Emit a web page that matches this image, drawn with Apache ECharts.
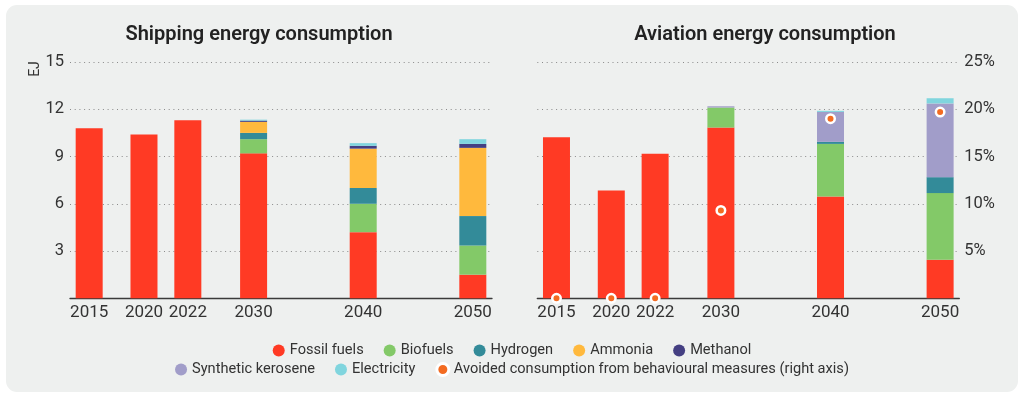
<!DOCTYPE html>
<html>
<head>
<meta charset="utf-8">
<script src="https://cdn.jsdelivr.net/npm/echarts@6/dist/echarts.min.js"></script>
<style>
  html, body { margin: 0; padding: 0; background: #ffffff; }
  #chart { width: 1024px; height: 396px; }
</style>
</head>
<body>
<div id="chart"></div>
<script>
// ---------------- DATA ----------------
const years = ['2015', '2020', '2022', '2030', '2040', '2050'];

const shipFossil      = [10.8, 10.4, 11.3, 9.2, 4.2, 1.5];
const shipBiofuels    = [0, 0, 0, 0.9, 1.8, 1.85];
const shipHydrogen    = [0, 0, 0, 0.4, 1.0, 1.87];
const shipAmmonia     = [0, 0, 0, 0.7, 2.5, 4.33];
const shipMethanol    = [0, 0, 0, 0.08, 0.18, 0.25];
const shipElectricity = [0, 0, 0, 0.06, 0.17, 0.3];

const aviFossil      = [10.23, 6.85, 9.17, 10.84, 6.47, 2.45];
const aviBiofuels    = [0, 0, 0, 1.27, 3.33, 4.23];
const aviHydrogen    = [0, 0, 0, 0, 0.13, 1.01];
const aviSynthetic   = [0, 0, 0, 0.08, 1.9, 4.68];
const aviElectricity = [0, 0, 0, 0, 0.07, 0.33];
const aviAvoidedPct  = [0, 0, 0, 9.3, 19.0, 19.7];

const ejTicks  = ['3', '6', '9', '12', '15'];
const pctTicks = ['5%', '10%', '15%', '20%', '25%'];

// ---------------- LAYOUT (not data) ----------------
// years are placed on a grid of 1/8-unit slots, as in the original figure
const slotOfYear = { '2015': 0, '2020': 10, '2022': 18, '2030': 30, '2040': 50, '2050': 70 };
const PAD = 3;
const N_SLOTS = PAD * 2 + 71;
const FONT = 'Roboto, "Noto Sans", sans-serif';
const TXT = '#333333';

const C = {
  fossil: '#ff3a24', bio: '#83c968', hyd: '#338b99', amm: '#ffb93d',
  meth: '#443f82', syn: '#a19dc9', ele: '#80d5de', dot: '#f36b21'
};

const slotNames = [];
for (let i = 0; i < N_SLOTS; i++) slotNames.push('gap' + i);
years.forEach(y => { slotNames[PAD + slotOfYear[y]] = y; });

function spread(arr) {
  const out = new Array(N_SLOTS).fill('-');
  years.forEach((y, i) => { out[PAD + slotOfYear[y]] = arr[i] === 0 ? '-' : arr[i]; });
  return out;
}
function spreadKeep(arr) {
  const out = new Array(N_SLOTS).fill('-');
  years.forEach((y, i) => { out[PAD + slotOfYear[y]] = arr[i]; });
  return out;
}

function xAxisDef(gridIndex) {
  return {
    type: 'category', gridIndex, data: slotNames, boundaryGap: true,
    axisLine: { lineStyle: { color: '#3a3a3a', width: 1.3 } },
    axisTick: { show: false },
    axisLabel: {
      interval: 0, margin: 6, fontFamily: FONT, fontSize: 17, color: TXT,
      formatter: v => (v.indexOf('gap') === 0 ? '' : v)
    }
  };
}
const splitDotted = { show: true, lineStyle: { color: '#8a8a8a', width: 1, type: [1, 3.7] } };

function bar(name, gridIdx, stack, color, arr) {
  return {
    name, type: 'bar', xAxisIndex: gridIdx, yAxisIndex: gridIdx === 0 ? 0 : 1,
    stack, barWidth: 27, data: spread(arr), itemStyle: { color }, emphasis: { disabled: true }
  };
}

const legendText = { fontFamily: FONT, fontSize: 14.6, color: TXT };

const option = {
  animation: false,
  backgroundColor: 'transparent',
  graphic: [
    { type: 'rect', z: -10, silent: true, shape: { x: 6, y: 5, width: 1012, height: 387, r: 11 },
      style: { fill: '#eef0ef' } },
    { type: 'text', x: 259, y: 35, style: { text: 'Shipping energy consumption', fontFamily: FONT,
      fontSize: 20, fontWeight: 600, fill: '#222222', align: 'center', verticalAlign: 'middle' } },
    { type: 'text', x: 765, y: 35, style: { text: 'Aviation energy consumption', fontFamily: FONT,
      fontSize: 20, fontWeight: 600, fill: '#222222', align: 'center', verticalAlign: 'middle' } },
    { type: 'text', x: 35, y: 69, rotation: Math.PI / 2, style: { text: 'EJ', fontFamily: FONT,
      fontSize: 14, fill: TXT, align: 'center', verticalAlign: 'middle' } }
  ],
  grid: [
    { left: 70, width: 422, top: 62, bottom: 97.7 },
    { left: 537.3, width: 422, top: 62, bottom: 97.7 }
  ],
  xAxis: [xAxisDef(0), xAxisDef(1)],
  yAxis: [
    { type: 'value', gridIndex: 0, min: 0, max: 15, interval: 3,
      axisLine: { show: false }, axisTick: { show: false }, splitLine: splitDotted,
      axisLabel: { showMinLabel: false, margin: 6, fontFamily: FONT, fontSize: 16.5, color: TXT,
        formatter: v => ejTicks[Math.round(v / 3) - 1] || '' } },
    { type: 'value', gridIndex: 1, min: 0, max: 15, interval: 3,
      axisLine: { show: false }, axisTick: { show: false }, splitLine: splitDotted,
      axisLabel: { show: false } },
    { type: 'value', gridIndex: 1, position: 'right', min: 0, max: 25, interval: 5,
      axisLine: { show: false }, axisTick: { show: false }, splitLine: { show: false },
      axisLabel: { showMinLabel: false, margin: 5, fontFamily: FONT, fontSize: 16.5, color: TXT,
        formatter: v => pctTicks[Math.round(v / 5) - 1] || '' } }
  ],
  legend: [
    { top: 338, left: 'center', icon: 'circle', itemWidth: 12, itemHeight: 12, itemGap: 20,
      selectedMode: false, textStyle: legendText,
      data: ['Fossil fuels', 'Biofuels', 'Hydrogen', 'Ammonia', 'Methanol'] },
    { top: 357, left: 'center', icon: 'circle', itemWidth: 12, itemHeight: 12, itemGap: 20,
      selectedMode: false, textStyle: legendText,
      data: ['Synthetic kerosene', 'Electricity',
        { name: 'Avoided consumption from behavioural measures (right axis)',
          itemStyle: { borderWidth: 3, borderColor: '#ffffff' } }] }
  ],
  series: [
    bar('Fossil fuels', 0, 'ship', C.fossil, shipFossil),
    bar('Biofuels', 0, 'ship', C.bio, shipBiofuels),
    bar('Hydrogen', 0, 'ship', C.hyd, shipHydrogen),
    bar('Ammonia', 0, 'ship', C.amm, shipAmmonia),
    bar('Methanol', 0, 'ship', C.meth, shipMethanol),
    bar('Electricity', 0, 'ship', C.ele, shipElectricity),

    bar('Fossil fuels', 1, 'avi', C.fossil, aviFossil),
    bar('Biofuels', 1, 'avi', C.bio, aviBiofuels),
    bar('Hydrogen', 1, 'avi', C.hyd, aviHydrogen),
    bar('Synthetic kerosene', 1, 'avi', C.syn, aviSynthetic),
    bar('Electricity', 1, 'avi', C.ele, aviElectricity),

    { name: 'Avoided consumption from behavioural measures (right axis)', type: 'scatter',
      xAxisIndex: 1, yAxisIndex: 2, data: spreadKeep(aviAvoidedPct), symbol: 'circle', symbolSize: 8.5,
      z: 5, clip: false, emphasis: { disabled: true },
      itemStyle: { color: C.dot, borderColor: '#ffffff', borderWidth: 2.5, opacity: 1 } }
  ]
};

const chart = echarts.init(document.getElementById('chart'), null, { renderer: 'canvas' });
chart.setOption(option);
</script>
</body>
</html>
